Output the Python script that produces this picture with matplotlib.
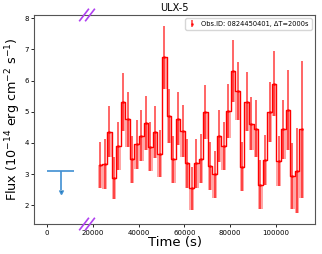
import numpy as np
import matplotlib
matplotlib.use("Agg")
import matplotlib.pyplot as plt

# light curve bins (dT = 2000 s)
t_start = 23200
dt = 2000
flux = [3.29, 3.32, 4.36, 2.87, 3.91, 5.32, 4.76, 3.48, 3.95, 4.23,
        4.64, 3.88, 4.34, 3.66, 6.74, 4.87, 3.47, 4.78, 4.39, 3.34,
        2.54, 3.34, 3.50, 4.98, 3.26, 2.99, 4.22, 3.90, 5.03, 6.31,
        5.67, 3.24, 5.32, 4.62, 4.46, 2.66, 3.45, 5.00, 5.90, 3.43,
        4.43, 5.05, 2.94, 3.11, 4.43]
flux_err = [0.75, 0.80, 0.82, 0.67, 0.77, 0.93, 0.88, 0.75, 0.80, 0.81,
            0.86, 0.78, 0.83, 0.76, 1.01, 0.87, 0.75, 0.86, 0.83, 0.80,
            0.70, 0.78, 0.78, 0.86, 0.78, 0.75, 0.83, 0.78, 0.87, 1.00,
            0.93, 0.78, 0.94, 0.85, 0.90, 0.78, 0.80, 0.96, 1.03, 0.80,
            0.94, 1.28, 1.07, 1.37, 2.19]
t = t_start + dt*np.arange(len(flux))
flux = np.array(flux)
flux_err = np.array(flux_err)

# earlier upper limit
ul_t = 6000
ul_terr = 6000
ul_flux = 3.1
ul_len = 0.6

brk_t = 17500  # axis break position

plt.figure(figsize=(3.22, 2.54), dpi=100)
ax = plt.axes([0.106, 0.118, 0.872, 0.823])

ax.bar(t, flux_err, bottom=flux-flux_err, width=dt, color="red", alpha=0.35, lw=0)
ax.step(t, flux, where="mid", color="red", lw=1.0)
ax.errorbar(t, flux, yerr=flux_err, fmt=".", color="red", ms=2, elinewidth=1.2,
            alpha=0.7, label="Obs.ID: 0824450401, \u0394T=2000s")
ul = ax.errorbar(ul_t, ul_flux, xerr=ul_terr, yerr=ul_len, uplims=True, fmt="none",
                 ecolor="#3f8fd2", elinewidth=1.2, capsize=2)
for cl in ul[1]:
    if cl.get_marker() in ("|", "_"):
        cl.set_markersize(0)
    else:
        cl.set_markersize(3.5)

# break marks
tr = ax.get_xaxis_transform()
for yb in [0.0, 1.0]:
    for off in [-1300, 1300]:
        ax.plot([brk_t+off-1900, brk_t+off+1900], [yb-0.027, yb+0.027], color="#b040f0",
                lw=1.2, transform=tr, clip_on=False, zorder=5)

ax.set_xlim(-5600, 117000)
ax.set_ylim(1.40, 8.1)
ax.set_xticks([0, 20000, 40000, 60000, 80000, 100000])
ax.set_yticks([2, 3, 4, 5, 6, 7, 8])
ax.tick_params(labelsize=5, length=2.5, width=0.6, pad=1.5)
for s in ax.spines.values():
    s.set_linewidth(0.8)
    s.set_color("#555555")
ax.set_title("ULX-5", fontsize=7, pad=3)
ax.set_xlabel("Time (s)", fontsize=9.5, labelpad=0)
ax.set_ylabel("Flux (10$^{-14}$ erg cm$^{-2}$ s$^{-1}$)", fontsize=9.2, labelpad=1)
ax.legend(loc="upper right", fontsize=4.8, handlelength=1.2, borderpad=0.4)

plt.savefig("out.png", dpi=100)
